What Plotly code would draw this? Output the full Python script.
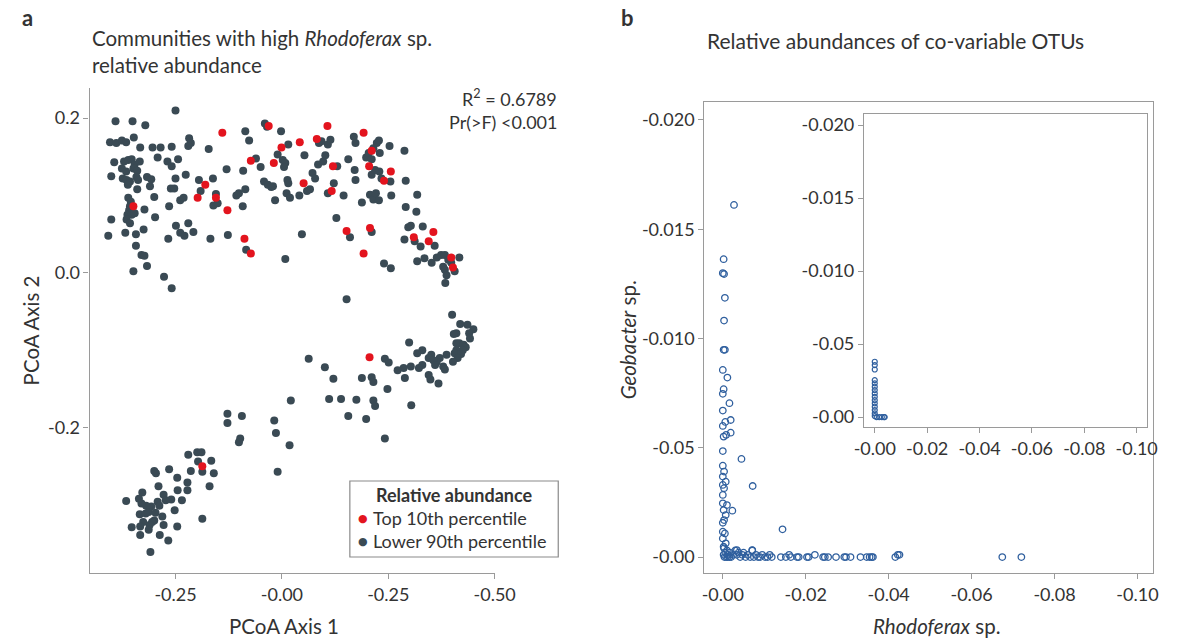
import plotly.graph_objects as go

# ---------------- Panel a data (PCoA) ----------------
lower_x = [-0.391,-0.351,-0.321,-0.250,-0.404,-0.389,-0.376,-0.366,-0.348,-0.333,-0.304,-0.285,-0.259,-0.218,-0.214,-0.220,-0.172,
           -0.394,-0.376,-0.371,-0.361,-0.353,-0.346,-0.334,-0.366,-0.349,-0.340,-0.292,-0.269,-0.259,-0.244,
           -0.401,-0.374,-0.365,-0.357,-0.342,-0.338,-0.317,-0.307,-0.310,-0.340,-0.362,-0.250,-0.226,-0.261,-0.253,
           -0.361,-0.355,-0.300,-0.265,-0.239,-0.231,-0.162,-0.195,-0.191,-0.155,-0.161,-0.151,
           -0.357,-0.359,-0.363,-0.353,-0.346,-0.323,-0.365,-0.357,-0.401,-0.298,
           -0.408,-0.368,-0.343,-0.325,-0.249,-0.239,-0.229,-0.220,-0.208,-0.168,-0.127,-0.267,
           -0.343,-0.330,-0.323,-0.317,-0.349,-0.277,-0.259,
           -0.130,-0.091,-0.107,-0.101,-0.086,-0.092,-0.084,-0.086,-0.077,-0.061,-0.050,-0.040,-0.035,-0.002,0.015,
           -0.042,-0.033,-0.025,-0.021,-0.016,-0.010,0.002,0.008,0.005,0.013,0.015,0.011,0.019,0.041,0.053,0.059,0.066,
           0.072,0.078,0.085,0.097,0.087,0.093,0.108,0.114,0.102,0.108,0.122,0.130,0.145,0.128,0.047,0.008,0.152,
           0.156,0.169,0.173,0.171,0.173,0.188,0.198,0.204,0.211,0.215,0.223,0.228,0.230,0.211,0.219,0.229,0.234,
           0.253,0.255,0.257,0.207,0.215,0.221,0.228,0.211,0.160,0.240,0.256,0.288,0.291,0.291,0.316,0.318,0.297,
           0.303,0.288,0.312,0.326,0.331,0.318,0.335,0.359,0.352,0.364,0.374,0.383,0.391,0.379,0.383,0.387,0.384,
           0.406,0.417,0.398,
           0.400,0.419,0.436,0.450,0.440,0.410,0.404,0.442,0.299,0.410,0.417,0.427,0.432,0.425,0.410,0.406,0.421,
           0.413,0.402,0.387,0.371,0.364,0.351,0.345,0.356,0.360,0.379,0.383,0.330,0.318,0.330,0.322,0.303,0.286,
           0.272,0.289,0.345,0.349,0.368,0.242,0.251,0.188,0.211,0.215,0.248,0.304,0.215,0.219,0.175,0.139,0.111,
           0.121,0.101,0.063,0.156,0.198,0.242,0.021,-0.018,-0.014,0.018,-0.010,-0.128,-0.094,-0.128,-0.098,-0.101,
           -0.220,-0.199,-0.189,-0.166,-0.160,-0.170,-0.187,-0.214,-0.197,-0.265,-0.300,-0.296,-0.246,-0.222,-0.222,
           -0.245,-0.235,-0.260,-0.278,-0.290,-0.273,-0.292,-0.288,-0.307,-0.319,-0.330,-0.328,-0.336,-0.366,-0.313,
           -0.334,-0.320,-0.297,-0.281,-0.252,-0.300,-0.305,-0.311,-0.326,-0.353,-0.333,-0.313,-0.278,-0.246,-0.333,
           -0.287,-0.267,-0.309,-0.187]
lower_y = [0.196,0.196,0.191,0.210,0.169,0.168,0.171,0.169,0.175,0.162,0.162,0.162,0.163,0.174,0.168,0.164,0.160,
           0.143,0.135,0.144,0.146,0.147,0.140,0.144,0.131,0.135,0.132,0.149,0.144,0.138,0.147,
           0.125,0.122,0.120,0.118,0.124,0.120,0.124,0.121,0.112,0.108,0.114,0.122,0.127,0.109,0.109,
           0.097,0.092,0.098,0.086,0.094,0.097,0.122,0.120,0.106,0.102,0.087,0.090,
           0.086,0.081,0.075,0.075,0.077,0.082,0.069,0.064,0.069,0.072,
           0.048,0.052,0.050,0.056,0.061,0.052,0.048,0.064,0.053,0.044,0.049,0.044,
           0.035,0.023,0.022,0.009,0.002,-0.005,-0.020,
           0.134,0.132,0.100,0.103,0.108,0.086,0.030,0.183,0.171,0.148,0.137,0.193,0.189,0.183,0.166,
           0.118,0.114,0.111,0.112,0.094,0.153,0.146,0.142,0.137,0.120,0.116,0.103,0.097,0.100,0.152,0.106,0.108,
           0.129,0.122,0.140,0.144,0.168,0.170,0.166,0.172,0.152,0.103,0.116,0.138,0.100,0.071,0.050,0.018,-0.034,
           0.147,0.176,0.168,0.133,0.120,0.091,0.149,0.155,0.147,0.161,0.168,0.171,0.155,0.127,0.133,0.131,0.122,
           0.164,0.118,0.100,0.101,0.095,0.103,0.094,0.053,0.046,0.012,0.006,0.158,0.119,0.085,0.079,0.101,0.059,
           0.061,0.043,0.041,0.034,0.060,0.015,0.019,0.035,0.013,0.020,0.023,0.023,0.017,0.008,0.004,-0.003,-0.013,
           0.002,0.020,0.013,
           -0.054,-0.066,-0.067,-0.073,-0.078,-0.078,-0.079,-0.085,-0.090,-0.091,-0.091,-0.093,-0.096,-0.100,-0.100,-0.104,-0.105,
           -0.110,-0.115,-0.106,-0.110,-0.115,-0.106,-0.110,-0.113,-0.119,-0.121,-0.125,-0.100,-0.104,-0.119,-0.123,-0.121,-0.123,
           -0.126,-0.136,-0.132,-0.138,-0.143,-0.111,-0.116,-0.136,-0.135,-0.141,-0.150,-0.171,-0.165,-0.172,-0.164,-0.163,-0.163,
           -0.137,-0.122,-0.111,-0.185,-0.189,-0.214,-0.165,-0.191,-0.207,-0.223,-0.257,-0.182,-0.185,-0.194,-0.214,-0.219,
           -0.235,-0.232,-0.232,-0.243,-0.259,-0.276,-0.257,-0.256,-0.244,-0.254,-0.256,-0.259,-0.265,-0.271,-0.281,
           -0.281,-0.294,-0.293,-0.287,-0.276,-0.294,-0.296,-0.301,-0.302,-0.301,-0.298,-0.284,-0.292,-0.295,-0.309,
           -0.312,-0.311,-0.310,-0.315,-0.307,-0.320,-0.322,-0.326,-0.322,-0.329,-0.328,-0.332,-0.326,-0.328,-0.339,
           -0.339,-0.346,-0.361,-0.318]

top_x = [-0.140,-0.031,0.107,0.192,0.042,0.082,-0.001,0.211,-0.073,-0.019,0.120,0.205,0.256,0.240,-0.180,0.051,
         0.117,-0.198,-0.155,-0.128,0.152,0.207,-0.088,-0.073,0.192,0.310,0.345,0.356,0.398,0.402,-0.349,0.206,-0.187]
top_y = [0.181,0.190,0.190,0.181,0.169,0.173,0.162,0.158,0.145,0.142,0.138,0.138,0.131,0.119,0.114,0.116,
         0.106,0.097,0.097,0.081,0.054,0.058,0.044,0.025,0.025,0.046,0.041,0.053,0.020,0.007,0.086,-0.109,-0.250]

a_xticks = [-0.25, 0.0, 0.25, 0.5]
a_xticktext = ["-0.25", "-0.00", "-0.25", "-0.50"]
a_yticks = [-0.2, 0.0, 0.2]
a_yticktext = ["-0.2", "0.0", "0.2"]

legend_title = "Relative abundance"
legend_labels = ["Top 10th percentile", "Lower 90th percentile"]

# ---------------- Panel b data ----------------
rho_x = [0.0027,0.0002,0.0000,0.0003,0.0005,0.0003,0.0002,0.0005,0.0000,0.0011,0.0002,0.0000,0.0016,0.0000,0.0006,
         0.0019,0.0000,0.0019,0.0002,0.0008,0.0000,0.0045,0.0000,0.0003,0.0000,0.0007,0.0000,0.0003,0.0072,0.0000,
         0.0000,0.0010,0.0023,0.0002,0.0007,0.0000,0.0003,0.0144,0.0000,0.0005,0.0000,0.0007,0.0002,0.0034,0.0071,
         0.0003,0.0006,0.0010,0.0013,0.0017,0.0020,0.0025,0.0030,0.0034,0.0038,0.0042,0.0047,0.0050,0.0055,0.0060,
         0.0066,0.0071,0.0075,0.0080,0.0085,0.0090,0.0095,0.0102,0.0108,0.0113,0.0118,0.0004,0.0008,0.0012,0.0016,0.0002,
         0.0140,0.0152,0.0160,0.0164,0.0179,0.0183,0.0203,0.0207,0.0222,0.0242,0.0246,0.0254,0.0273,0.0293,0.0297,
         0.0308,0.0332,0.0347,0.0354,0.0359,0.0362,0.0416,0.0422,0.0426,0.0674,0.0720]
geo_y = [0.01611,0.01363,0.01299,0.01295,0.01186,0.01082,0.00948,0.00948,0.00856,0.00821,0.00768,0.00747,0.00704,
         0.00670,0.00618,0.00627,0.00600,0.00569,0.00551,0.00559,0.00485,0.00449,0.00418,0.00391,0.00368,0.00345,
         0.00330,0.00315,0.00325,0.00284,0.00246,0.00238,0.00212,0.00215,0.00192,0.00157,0.00169,0.00127,0.00116,
         0.00108,0.00085,0.00063,0.00047,0.00032,0.00032,
         0.0004,0.0002,0.0003,0.0001,0.0002,0.0000,0.0001,0.0003,0.0001,0.0002,0.0000,0.0001,0.0002,0.0000,0.0001,
         0.0000,0.0003,0.0000,0.0001,0.0000,0.0000,0.0001,0.0000,0.0000,0.0001,0.0000,0.0000,0.0000,0.0000,0.0000,0.0001,
         0.0000,0.0000,0.0001,0.0000,0.0000,0.0000,0.0000,0.0000,0.0001,0.0000,0.0000,0.0000,0.0000,0.0000,0.0000,
         0.0000,0.0000,0.0000,0.0000,0.0000,0.0000,0.0000,0.0001,0.0001,0.0000,0.0000]

inset_x = [0.0000,0.0000,0.0000,0.0000,0.0000,0.0000,0.0000,0.0000,0.0000,0.0000,0.0000,0.0000,0.0000,0.0000,0.0000,
           0.0007,0.0017,0.0027,0.0035,0.0038]
inset_y = [0.00379,0.00356,0.00326,0.00253,0.00231,0.00208,0.00185,0.00162,0.00139,0.00116,0.00094,0.00071,0.00048,
           0.00025,0.00007,0.0000,0.0000,0.0000,0.0000,0.0000]

b_xticks = [0.0, 0.02, 0.04, 0.06, 0.08, 0.10]
b_xticktext = ["-0.00", "-0.02", "-0.04", "-0.06", "-0.08", "-0.10"]
b_yticks = [0.0, 0.005, 0.010, 0.015, 0.020]
b_yticktext = ["-0.00", "-0.05", "-0.010", "-0.015", "-0.020"]

# ---------------- Styling ----------------
W, H = 1183, 639
FONT = "Lato"
TXT = "#333333"
AX = "#9a9a9a"
DARK = "#3a4a54"
RED = "#e3141e"
BLUE = "#2f5f9e"
TICK_SIZE = 18


def px(x0, x1):
    return [x0 / W, x1 / W]


def py(top, bottom):
    return [(H - bottom) / H, (H - top) / H]


fig = go.Figure()

fig.add_trace(go.Scatter(x=lower_x, y=lower_y, mode="markers", name=legend_labels[1], showlegend=False,
                         marker=dict(color=DARK, size=8, line=dict(width=0)), xaxis="x", yaxis="y"))
fig.add_trace(go.Scatter(x=top_x, y=top_y, mode="markers", name=legend_labels[0], showlegend=False,
                         marker=dict(color=RED, size=8, line=dict(width=0)), xaxis="x", yaxis="y"))

fig.add_trace(go.Scatter(x=rho_x, y=geo_y, mode="markers", showlegend=False,
                         marker=dict(symbol="circle-open", color=BLUE, size=6.5, line=dict(width=1.3)),
                         xaxis="x2", yaxis="y2"))
fig.add_trace(go.Scatter(x=inset_x, y=inset_y, mode="markers", showlegend=False,
                         marker=dict(symbol="circle-open", color=BLUE, size=5, line=dict(width=1.2)),
                         xaxis="x3", yaxis="y3"))

tickfont = dict(family=FONT, size=TICK_SIZE, color=TXT)
common = dict(showgrid=False, zeroline=False, showline=True, linecolor=AX, linewidth=1.2,
              ticks="outside", ticklen=5, tickcolor=AX, tickwidth=1.2, tickfont=tickfont)

fig.update_layout(
    width=W, height=H, margin=dict(l=0, r=0, t=0, b=0),
    paper_bgcolor="white", plot_bgcolor="white",
    font=dict(family=FONT, color=TXT),
    showlegend=False,
    xaxis=dict(domain=px(81.7, 497.7), range=[-0.452, 0.5], tickvals=a_xticks, ticktext=a_xticktext,
               anchor="y", **common),
    yaxis=dict(domain=py(88, 573), range=[-0.388, 0.239], tickvals=a_yticks, ticktext=a_yticktext,
               anchor="x", **common),
    xaxis2=dict(domain=px(713, 1174), range=[-0.00446, 0.1038], tickvals=b_xticks, ticktext=b_xticktext,
                anchor="y2", mirror=True, **common),
    yaxis2=dict(domain=py(102, 573), range=[-0.00073, 0.02082], tickvals=b_yticks, ticktext=b_yticktext,
                anchor="x2", mirror=True, **common),
    xaxis3=dict(domain=px(877, 1168), range=[-0.0041, 0.1041], tickvals=b_xticks, ticktext=b_xticktext,
                anchor="y3", mirror=True, **common),
    yaxis3=dict(domain=py(113.5, 427), range=[-0.00068, 0.0208], tickvals=b_yticks, ticktext=b_yticktext,
                anchor="x3", mirror=True, **common),
)

# legend box (drawn as a framed key)
fig.add_shape(type="rect", xref="paper", yref="paper",
              x0=349 / W, x1=563 / W, y0=(H - 557) / H, y1=(H - 481) / H,
              line=dict(color="#8a8a8a", width=1.2), fillcolor="white", layer="above")

ann = [
    dict(text="<b>a</b>", x=10, y=18, size=22, xanchor="left"),
    dict(text="<b>b</b>", x=625, y=18, size=22, xanchor="left"),
    dict(text="Communities with high <i>Rhodoferax</i> sp.<br>relative abundance", x=82, y=51, size=20.5,
         xanchor="left"),
    dict(text="Relative abundances of co-variable OTUs", x=714, y=40, size=21, xanchor="left"),
    dict(text="R<sup>2</sup> = 0.6789", x=564, y=98, size=18, xanchor="right"),
    dict(text="Pr(>F) <0.001", x=564, y=122, size=18, xanchor="right"),
    dict(text="PCoA Axis 1", x=281, y=626, size=20.5, xanchor="center"),
    dict(text="<i>Rhodoferax</i> sp.", x=952, y=626, size=20.5, xanchor="center"),
    dict(text="<b>" + legend_title + "</b>", x=456, y=495, size=18, xanchor="center"),
    dict(text=legend_labels[0], x=371, y=518, size=18, xanchor="left"),
    dict(text=legend_labels[1], x=371, y=541, size=18, xanchor="left"),
]
annotations = []
for a in ann:
    annotations.append(dict(text=a["text"], x=a["x"] / W, y=(H - a["y"]) / H, xref="paper", yref="paper",
                            xanchor=a["xanchor"], yanchor="middle", align="left", showarrow=False,
                            font=dict(family=FONT, size=a["size"], color=TXT)))
for col, yy in [(RED, 518), (DARK, 541)]:
    annotations.append(dict(text="●", x=362 / W, y=(H - yy) / H, xref="paper", yref="paper",
                            xanchor="center", yanchor="middle", showarrow=False,
                            font=dict(family="DejaVu Sans", size=11, color=col)))
annotations.append(dict(text="PCoA Axis 2", x=22 / W, y=(H - 330) / H, xref="paper", yref="paper",
                        textangle=-90, showarrow=False, xanchor="center", yanchor="middle",
                        font=dict(family=FONT, size=20.5, color=TXT)))
annotations.append(dict(text="<i>Geobacter</i> sp.", x=635 / W, y=(H - 340) / H, xref="paper", yref="paper",
                        textangle=-90, showarrow=False, xanchor="center", yanchor="middle",
                        font=dict(family=FONT, size=20.5, color=TXT)))
fig.update_layout(annotations=annotations)

fig.write_html("out.html")
